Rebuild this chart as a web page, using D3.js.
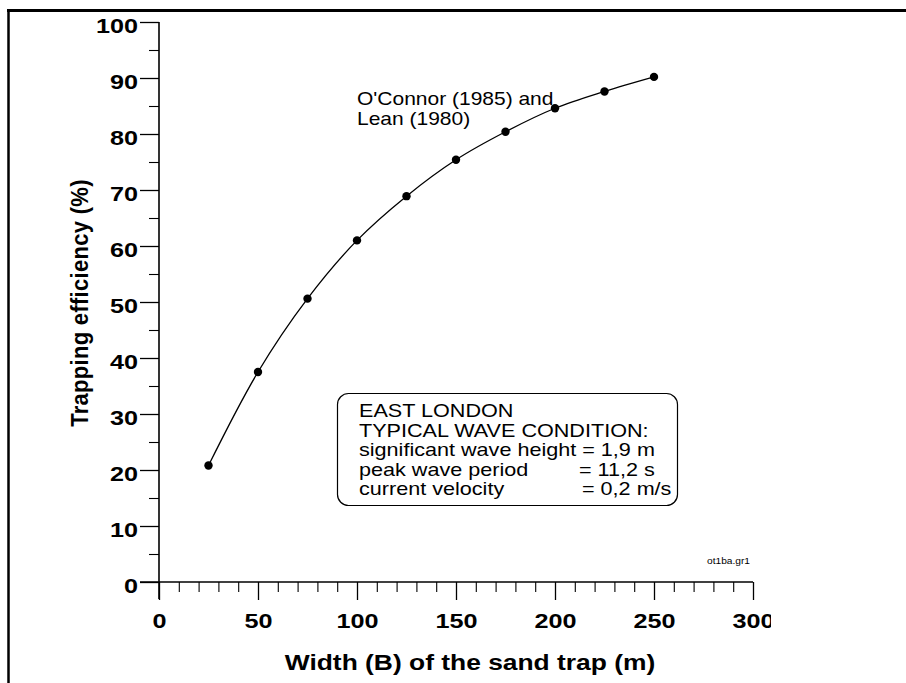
<!DOCTYPE html>
<html>
<head>
<meta charset="utf-8">
<script src="https://cdn.jsdelivr.net/npm/d3@7"></script>
<style>
  html, body { margin: 0; padding: 0; background: #fff; }
  svg { display: block; }
  text { font-family: "Liberation Sans", Arial, Helvetica, sans-serif; fill: #000; }
</style>
</head>
<body>
<svg id="chart" width="906" height="683"></svg>
<script>
// ---- data ----
const widths = [25, 50, 75, 100, 125, 150, 175, 200, 225, 250];
const efficiency = [20.8, 37.5, 50.6, 61.0, 68.9, 75.4, 80.4, 84.6, 87.6, 90.2];
const xTicks = [0, 50, 100, 150, 200, 250, 300];
const xMinorTicks = [10, 20, 30, 40, 60, 70, 80, 90, 110, 120, 130, 140, 160, 170, 180, 190, 210, 220, 230, 240, 260, 270, 280, 290];
const yTicks = [0, 10, 20, 30, 40, 50, 60, 70, 80, 90, 100];
const yMinorTicks = [5, 15, 25, 35, 45, 55, 65, 75, 85, 95];
const xTitle = "Width (B) of the sand trap (m)";
const yTitle = "Trapping efficiency (%)";
const annotationLines = ["O'Connor (1985) and", "Lean (1980)"];
const legendLeft = ["EAST LONDON", "TYPICAL WAVE CONDITION:", "significant wave height = 1,9 m", "peak wave period", "current velocity"];
const legendRight = ["", "", "", "= 11,2 s", "= 0,2 m/s"];
const fileTag = "ot1ba.gr1";

// ---- layout ----
const svg = d3.select("#chart");
const SX = 1.2; // horizontal stretch of the scanned lettering
const x = d3.scaleLinear().domain([0, 300]).range([159, 753]);
const y = d3.scaleLinear().domain([0, 100]).range([582, 22]);

// page frame (top and left edges)
svg.append("line").attr("x1", 7).attr("x2", 906).attr("y1", 10.5).attr("y2", 10.5)
  .attr("stroke", "#000").attr("stroke-width", 3);
svg.append("line").attr("x1", 8.5).attr("x2", 8.5).attr("y1", 9).attr("y2", 683)
  .attr("stroke", "#000").attr("stroke-width", 2.5);

// clip for the truncated last x label
svg.append("defs").append("clipPath").attr("id", "clipX")
  .append("rect").attr("x", 0).attr("y", 0).attr("width", 771).attr("height", 683);

// ---- y axis ----
const gy = svg.append("g").attr("transform", `translate(${x(0)},0)`);
gy.call(d3.axisLeft(y).tickValues(yTicks).tickSize(19).tickSizeOuter(0).tickFormat(d3.format("d")));
gy.select(".domain").remove();
gy.selectAll(".tick line").attr("stroke", "#000").attr("stroke-width", 1.3);
gy.selectAll(".tick text")
  .attr("x", null).attr("dy", null)
  .attr("text-anchor", "end")
  .attr("transform", `translate(-21,10) scale(${SX},1)`)
  .style("font-size", "21px").style("font-weight", "bold");
const gyMinor = svg.append("g").attr("transform", `translate(${x(0)},0)`);
gyMinor.call(d3.axisLeft(y).tickValues(yMinorTicks).tickSize(10).tickSizeOuter(0).tickFormat(""));
gyMinor.select(".domain").remove();
gyMinor.selectAll(".tick line").attr("stroke", "#000").attr("stroke-width", 1.1);
svg.append("line").attr("x1", x(0)).attr("x2", x(0)).attr("y1", y(100)).attr("y2", y(0) + 17)
  .attr("stroke", "#000").attr("stroke-width", 1.6);

// ---- x axis ----
const gx = svg.append("g").attr("transform", `translate(0,${y(0)})`).attr("clip-path", "url(#clipX)");
gx.call(d3.axisBottom(x).tickValues(xTicks).tickSize(18).tickSizeOuter(0).tickFormat(d3.format("d")));
gx.select(".domain").remove();
gx.selectAll(".tick line").attr("stroke", "#000").attr("stroke-width", 1.3);
gx.selectAll(".tick text")
  .attr("y", null).attr("dy", null)
  .attr("text-anchor", "middle")
  .attr("transform", `translate(0,46) scale(${SX},1)`)
  .style("font-size", "21px").style("font-weight", "bold");
const gxMinor = svg.append("g").attr("transform", `translate(0,${y(0)})`);
gxMinor.call(d3.axisBottom(x).tickValues(xMinorTicks).tickSize(10).tickSizeOuter(0).tickFormat(""));
gxMinor.select(".domain").remove();
gxMinor.selectAll(".tick line").attr("stroke", "#000").attr("stroke-width", 1.1);
svg.append("line").attr("x1", x(0) - 19).attr("x2", x(300)).attr("y1", y(0)).attr("y2", y(0))
  .attr("stroke", "#000").attr("stroke-width", 1.3);

// ---- axis titles ----
svg.append("text")
  .attr("transform", `translate(470,670) scale(${SX},1)`)
  .attr("text-anchor", "middle")
  .style("font-size", "22px").style("font-weight", "bold")
  .text(xTitle);
svg.append("text")
  .attr("transform", `translate(88,303) scale(1.1,1) rotate(-90)`)
  .attr("text-anchor", "middle")
  .style("font-size", "22px").style("font-weight", "bold")
  .style("letter-spacing", "0.3px")
  .text(yTitle);

// ---- curve and points ----
const pts = widths.map((w, i) => [w, efficiency[i]]);
const line = d3.line().x(d => x(d[0])).y(d => y(d[1])).curve(d3.curveCatmullRom.alpha(0.5));
svg.append("path").datum(pts).attr("d", line)
  .attr("fill", "none").attr("stroke", "#000").attr("stroke-width", 1.3);
svg.selectAll("circle.pt").data(pts).enter().append("circle")
  .attr("class", "pt")
  .attr("cx", d => x(d[0])).attr("cy", d => y(d[1])).attr("r", 4.2)
  .attr("fill", "#000");

// ---- annotation ----
annotationLines.forEach((t, i) => {
  svg.append("text")
    .attr("transform", `translate(357,${105 + i * 19.5}) scale(${SX},1)`)
    .style("font-size", "17.5px")
    .text(t);
});

// ---- legend box ----
svg.append("rect").attr("x", 337.5).attr("y", 393.5).attr("width", 340).attr("height", 112)
  .attr("rx", 11).attr("ry", 11)
  .attr("fill", "none").attr("stroke", "#000").attr("stroke-width", 1.2);
legendLeft.forEach((t, i) => {
  svg.append("text")
    .attr("transform", `translate(359,${417 + i * 19.5}) scale(${SX},1)`)
    .style("font-size", "18px")
    .text(t);
});
legendRight.forEach((t, i) => {
  if (!t) return;
  svg.append("text")
    .attr("transform", `translate(${579 + (i - 3) * 3},${417 + i * 19.5}) scale(${SX},1)`)
    .style("font-size", "18px")
    .text(t);
});

// ---- file tag ----
svg.append("text")
  .attr("transform", `translate(707,564) scale(${SX},1)`)
  .style("font-size", "8.5px")
  .text(fileTag);
</script>
</body>
</html>
